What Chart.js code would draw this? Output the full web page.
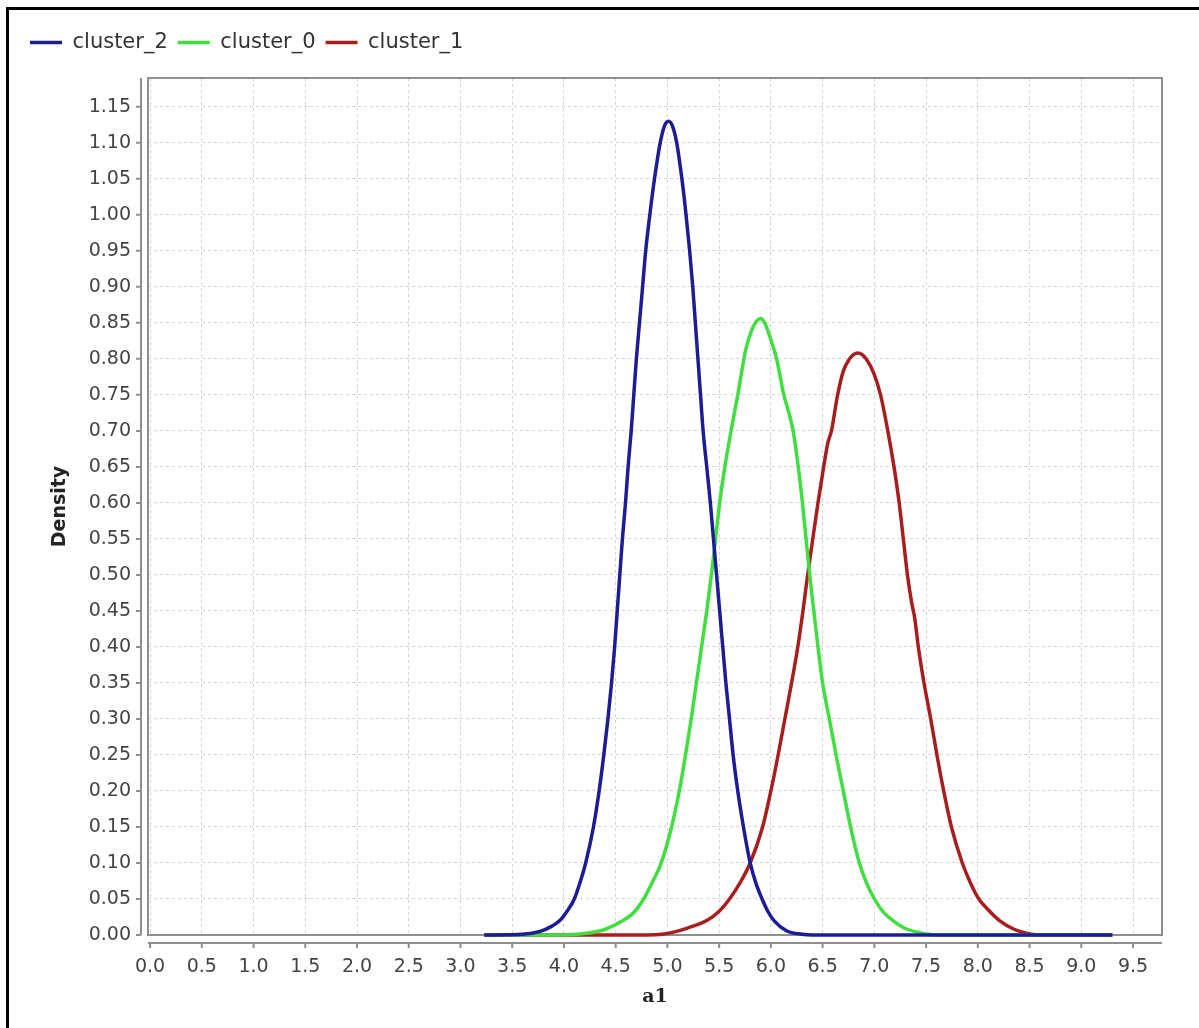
<!DOCTYPE html>
<html><head><meta charset="utf-8">
<script src="https://cdn.jsdelivr.net/npm/chart.js@4.4.0/dist/chart.umd.min.js"></script>
<style>
html,body{margin:0;padding:0;background:#fff;overflow:hidden;}
#wrap{position:relative;width:1199px;height:1028px;}
#frame{position:absolute;left:6px;top:7px;width:1300px;height:1100px;border:3px solid #000;box-sizing:border-box;pointer-events:none;}
canvas{position:absolute;left:0;top:0;}
</style></head><body>
<div id="wrap"><canvas id="c" width="1199" height="1028"></canvas><div id="frame"></div></div>
<script>
// Series names (legend order)
const seriesNames = ['cluster_2', 'cluster_0', 'cluster_1'];
// Density curves as [a1, density] pairs
const cluster2 = [[3.23,0],[3.6,0.001],[3.77,0.005],[3.88,0.012],[3.96,0.02],[4.03,0.033],[4.10,0.05],[4.16,0.075],[4.21,0.10],[4.285,0.15],[4.34,0.20],[4.385,0.25],[4.425,0.30],[4.46,0.35],[4.49,0.40],[4.515,0.45],[4.54,0.50],[4.565,0.55],[4.595,0.60],[4.62,0.65],[4.65,0.70],[4.675,0.75],[4.70,0.80],[4.73,0.85],[4.76,0.90],[4.79,0.95],[4.83,1.00],[4.875,1.05],[4.93,1.10],[4.97,1.123],[5.01,1.13],[5.05,1.123],[5.09,1.10],[5.14,1.05],[5.18,1.00],[5.215,0.95],[5.245,0.90],[5.27,0.85],[5.295,0.80],[5.32,0.75],[5.345,0.70],[5.38,0.65],[5.415,0.60],[5.445,0.55],[5.475,0.50],[5.505,0.45],[5.535,0.40],[5.565,0.35],[5.60,0.30],[5.635,0.25],[5.68,0.20],[5.735,0.15],[5.80,0.10],[5.855,0.072],[5.915,0.05],[5.97,0.033],[6.03,0.02],[6.15,0.006],[6.30,0.001],[6.40,0],[9.30,0]];
const cluster0 = [[3.23,0],[4.0,0],[4.2,0.002],[4.4,0.008],[4.57,0.02],[4.68,0.032],[4.77,0.05],[4.86,0.075],[4.94,0.10],[5.04,0.15],[5.115,0.20],[5.175,0.25],[5.23,0.30],[5.28,0.35],[5.33,0.40],[5.38,0.45],[5.425,0.50],[5.465,0.55],[5.505,0.60],[5.555,0.65],[5.615,0.70],[5.68,0.75],[5.76,0.815],[5.815,0.84],[5.86,0.852],[5.90,0.856],[5.94,0.85],[5.985,0.833],[6.055,0.80],[6.125,0.75],[6.18,0.722],[6.215,0.70],[6.265,0.65],[6.305,0.60],[6.34,0.55],[6.375,0.50],[6.415,0.45],[6.455,0.40],[6.50,0.35],[6.565,0.30],[6.63,0.25],[6.70,0.20],[6.77,0.15],[6.855,0.10],[6.925,0.072],[7.00,0.05],[7.08,0.033],[7.18,0.02],[7.3,0.009],[7.45,0.003],[7.6,0],[9.3,0]];
const cluster1 = [[3.23,0],[4.8,0],[4.95,0.001],[5.06,0.004],[5.2,0.01],[5.38,0.02],[5.5,0.033],[5.60,0.05],[5.70,0.072],[5.80,0.10],[5.92,0.15],[6.0,0.20],[6.07,0.25],[6.135,0.30],[6.20,0.35],[6.26,0.40],[6.31,0.45],[6.355,0.50],[6.405,0.55],[6.455,0.60],[6.51,0.65],[6.55,0.683],[6.585,0.70],[6.645,0.75],[6.70,0.783],[6.76,0.80],[6.80,0.806],[6.84,0.808],[6.88,0.806],[6.92,0.80],[6.995,0.78],[7.06,0.75],[7.13,0.70],[7.19,0.65],[7.24,0.60],[7.28,0.55],[7.32,0.50],[7.36,0.462],[7.39,0.44],[7.425,0.40],[7.48,0.35],[7.545,0.30],[7.605,0.25],[7.67,0.20],[7.745,0.15],[7.85,0.10],[7.93,0.072],[8.01,0.05],[8.1,0.035],[8.21,0.02],[8.35,0.008],[8.46,0.003],[8.6,0],[9.3,0]];
// Tick values
const xTickValues = [0,0.5,1,1.5,2,2.5,3,3.5,4,4.5,5,5.5,6,6.5,7,7.5,8,8.5,9,9.5];
const yTickValues = [0,0.05,0.1,0.15,0.2,0.25,0.3,0.35,0.4,0.45,0.5,0.55,0.6,0.65,0.7,0.75,0.8,0.85,0.9,0.95,1,1.05,1.1,1.15];
const xTitle = 'a1';
const yTitle = 'Density';

const colors = ['rgb(28,28,150)', 'rgb(64,222,64)', 'rgb(168,30,30)'];
const seriesData = [cluster2, cluster0, cluster1];
const FONT = "'DejaVu Sans', sans-serif";

const frameAxes = {
  id: 'frameAxes',
  beforeDatasetsDraw(chart) {
    const {ctx, chartArea: a} = chart;
    ctx.save();
    ctx.strokeStyle = '#8e8e8e'; ctx.lineWidth = 2;
    ctx.strokeRect(a.left, a.top, a.right - a.left, a.bottom - a.top);
    ctx.restore();
  },
  afterDraw(chart) {
    const {ctx, chartArea: a, scales: {x, y}} = chart;
    ctx.save();
    ctx.strokeStyle = '#8e8e8e'; ctx.lineWidth = 2;
    const ax = a.left - 7;
    ctx.beginPath();
    ctx.moveTo(ax, a.top); ctx.lineTo(ax, a.bottom);
    y.ticks.forEach(t => { const p = y.getPixelForValue(t.value); ctx.moveTo(ax - 5, p); ctx.lineTo(ax, p); });
    const ay = a.bottom + 8;
    ctx.moveTo(a.left, ay); ctx.lineTo(a.right, ay);
    x.ticks.forEach(t => { const p = x.getPixelForValue(t.value); ctx.moveTo(p, ay); ctx.lineTo(p, ay + 5); });
    ctx.stroke();
    ctx.restore();
  }
};

new Chart(document.getElementById('c'), {
  type: 'line',
  data: {
    datasets: seriesNames.map((n, i) => ({
      label: n,
      data: seriesData[i].map(p => ({x: p[0], y: p[1]})),
      borderColor: colors[i],
      backgroundColor: colors[i],
      borderWidth: 3.5,
      pointRadius: 0,
      fill: false,
      cubicInterpolationMode: 'monotone',
      clip: false
    }))
  },
  options: {
    responsive: false,
    animation: false,
    devicePixelRatio: 1,
    layout: {padding: {left: 20, top: 22, right: 37, bottom: 0}},
    plugins: {
      legend: {
        position: 'top', align: 'start',
        labels: {usePointStyle: true, pointStyle: 'line', pointStyleWidth: 32, padding: 10,
          font: {family: FONT, size: 21}, color: '#333'}
      },
      subtitle: {display: true, text: '', position: 'top', weight: 500, padding: 0, font: {size: 15, lineHeight: 1}},
      tooltip: {enabled: false}
    },
    scales: {
      x: {
        type: 'linear', min: -0.02, max: 9.78,
        afterBuildTicks: s => { s.ticks = xTickValues.map(v => ({value: v})); },
        afterFit: s => { s.height = 93; },
        ticks: {callback: v => Number(v).toFixed(1), font: {family: FONT, size: 19}, color: '#444', padding: 21, maxRotation: 0, autoSkip: false},
        grid: {color: '#d4d4d4', lineWidth: 1, drawTicks: false},
        border: {display: false, dash: [3, 3]},
        title: {display: true, text: xTitle, font: {family: "'DejaVu Serif', serif", size: 19, weight: 'bold'}, color: '#222', padding: {top: 0, bottom: 20}}
      },
      y: {
        type: 'linear', min: 0, max: 1.19,
        afterBuildTicks: s => { s.ticks = yTickValues.map(v => ({value: v})); },
        afterFit: s => { s.width = 128; },
        ticks: {callback: v => Number(v).toFixed(2), font: {family: FONT, size: 19}, color: '#444', padding: 17, autoSkip: false},
        grid: {color: '#d4d4d4', lineWidth: 1, drawTicks: false},
        border: {display: false, dash: [3, 3]},
        title: {display: true, text: yTitle, font: {family: FONT, size: 19, weight: 'bold'}, color: '#222', padding: {top: 29, bottom: 0}}
      }
    }
  },
  plugins: [frameAxes]
});
</script></body></html>
